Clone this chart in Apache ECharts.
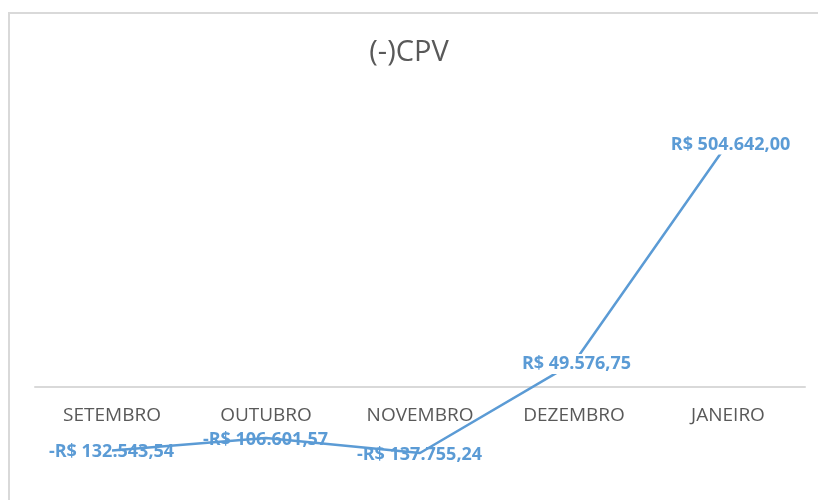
<!DOCTYPE html>
<html>
<head>
<meta charset="utf-8">
<script src="https://cdn.jsdelivr.net/npm/echarts@6/dist/echarts.min.js"></script>
<style>
  html, body { margin: 0; padding: 0; background: #fff; }
  #chart { width: 818px; height: 500px; }
</style>
</head>
<body>
<div id="chart"></div>
<script>
// dados do gráfico
const months = ['SETEMBRO', 'OUTUBRO', 'NOVEMBRO', 'DEZEMBRO', 'JANEIRO'];
const cpv = [-132543.54, -106601.57, -137755.24, 49576.75, 504642.00];

const fmtBRL = (v) => {
  const s = Math.abs(v).toLocaleString('pt-BR', {minimumFractionDigits: 2, maximumFractionDigits: 2});
  return (v < 0 ? '-' : '') + 'R$ ' + s;
};

const chart = echarts.init(document.getElementById('chart'));

// rótulos positivos tapam a linha (fundo branco), como no original
const seriesData = cpv.map((v) => ({
  value: v,
  label: v > 0
    ? {backgroundColor: '#fff', padding: [1, 0], offset: [3, 2]}
    : {offset: [0, 2]},
}));

chart.setOption({
  animation: false,
  backgroundColor: '#fff',
  title: {
    text: '(-)CPV',
    left: 'center',
    top: 33,
    textStyle: {
      fontFamily: 'Open Sans',
      fontSize: 29,
      fontWeight: 'normal',
      color: '#595959',
    },
  },
  graphic: [{
    type: 'rect',
    shape: {x: 9, y: 13, width: 820, height: 500},
    style: {fill: 'none', stroke: '#d9d9d9', lineWidth: 2},
    silent: true,
  }],
  // eixo X fica na linha do zero; valores negativos desenhados fora da grade
  grid: {left: 35, right: 13, top: 97, bottom: 113.5, containLabel: false, outerBoundsMode: 'none'},
  xAxis: {
    type: 'category',
    data: months,
    axisLine: {lineStyle: {color: '#d9d9d9', width: 2}},
    axisTick: {show: false},
    axisLabel: {
      fontFamily: 'Open Sans',
      fontSize: 19,
      color: '#595959',
      margin: 20,
    },
  },
  yAxis: {
    type: 'value',
    min: 0,
    max: 600000,
    show: false,
    splitLine: {show: false},
  },
  series: [{
    type: 'line',
    data: seriesData,
    clip: false,
    symbol: 'circle',
    symbolSize: 1,
    itemStyle: {color: 'rgba(0,0,0,0)'},
    lineStyle: {color: '#5b9bd5', width: 2.5},
    label: {
      show: true,
      position: [0, 0],
      align: 'center',
      verticalAlign: 'middle',
      formatter: (p) => fmtBRL(p.value),
      fontFamily: 'Open Sans',
      fontWeight: 'bold',
      fontSize: 18,
      color: '#5b9bd5',
    },
  }],
});
</script>
</body>
</html>
